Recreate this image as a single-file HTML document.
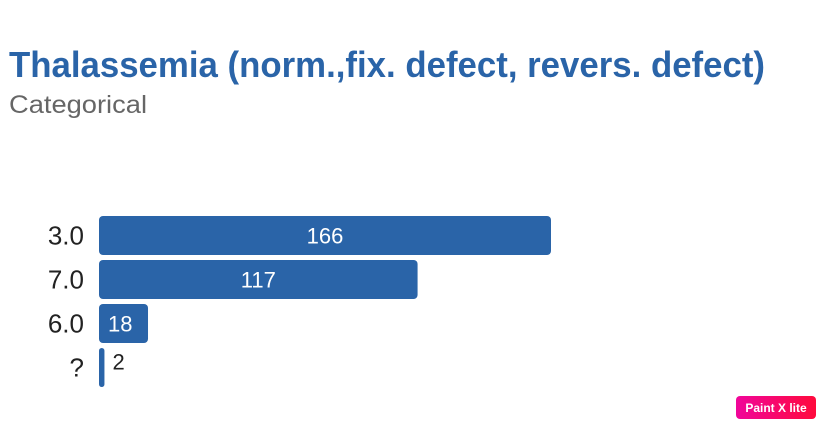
<!DOCTYPE html>
<html><head><meta charset="utf-8"><style>
body{margin:0;background:#fff;width:826px;height:429px;overflow:hidden;font-family:"Liberation Sans",Arial,sans-serif}
</style></head><body>
<svg width="826" height="429">
<text x="9" y="77" font-size="36" font-weight="bold" fill="#2a64a8" textLength="756" lengthAdjust="spacingAndGlyphs">Thalassemia (norm.,fix. defect, revers. defect)</text>
<text x="9" y="113" font-size="25" fill="#666" textLength="138" lengthAdjust="spacingAndGlyphs">Categorical</text>
<g id="bars"></g>
<g>
<defs><linearGradient id="bg" x1="0" x2="1"><stop offset="0" stop-color="#f0069a"/><stop offset="1" stop-color="#ff0a3c"/></linearGradient></defs>
<rect x="736" y="396" width="80" height="23" rx="4" fill="url(#bg)"/>
<text x="776" y="412" font-size="12" font-weight="bold" fill="#fff" text-anchor="middle">Paint X lite</text>
</g>
</svg>
<script>
const categories=["3.0","7.0","6.0","?"];
const values=[166,117,18,2];
const x0=99,scale=452/166,top0=216,step=44,bh=39;
const g=document.getElementById('bars');
const ns='http://www.w3.org/2000/svg';
const xs=v=>v*scale;
categories.forEach((c,i)=>{
 const y=top0+i*step,w=xs(values[i]);
 const r=document.createElementNS(ns,'rect');
 r.setAttribute('x',x0);r.setAttribute('y',y);r.setAttribute('width',w);r.setAttribute('height',bh);
 r.setAttribute('rx',Math.min(4,w/2));r.setAttribute('fill','#2a64a8');
 
 
 g.appendChild(r);
 const l=document.createElementNS(ns,'text');
 l.setAttribute('x',84);l.setAttribute('y',y+bh/2+9);l.setAttribute('text-anchor','end');
 l.setAttribute('font-size','26');l.setAttribute('fill','#222');l.textContent=c;
 
 
 g.appendChild(l);
 const t=document.createElementNS(ns,'text');
 t.setAttribute('font-size','22');t.setAttribute('y',y+bh/2+8);
 if(w>60){t.setAttribute('x',x0+w/2);t.setAttribute('text-anchor','middle');t.setAttribute('fill','#fff');}
 else if(w>30){t.setAttribute('x',x0+9);t.setAttribute('fill','#fff');}
 else{t.setAttribute('x',x0+w+8);t.setAttribute('fill','#222');t.setAttribute('y',y+bh/2+2);}
 t.textContent=values[i];
 
 
 g.appendChild(t);
});
</script>
</body></html>
